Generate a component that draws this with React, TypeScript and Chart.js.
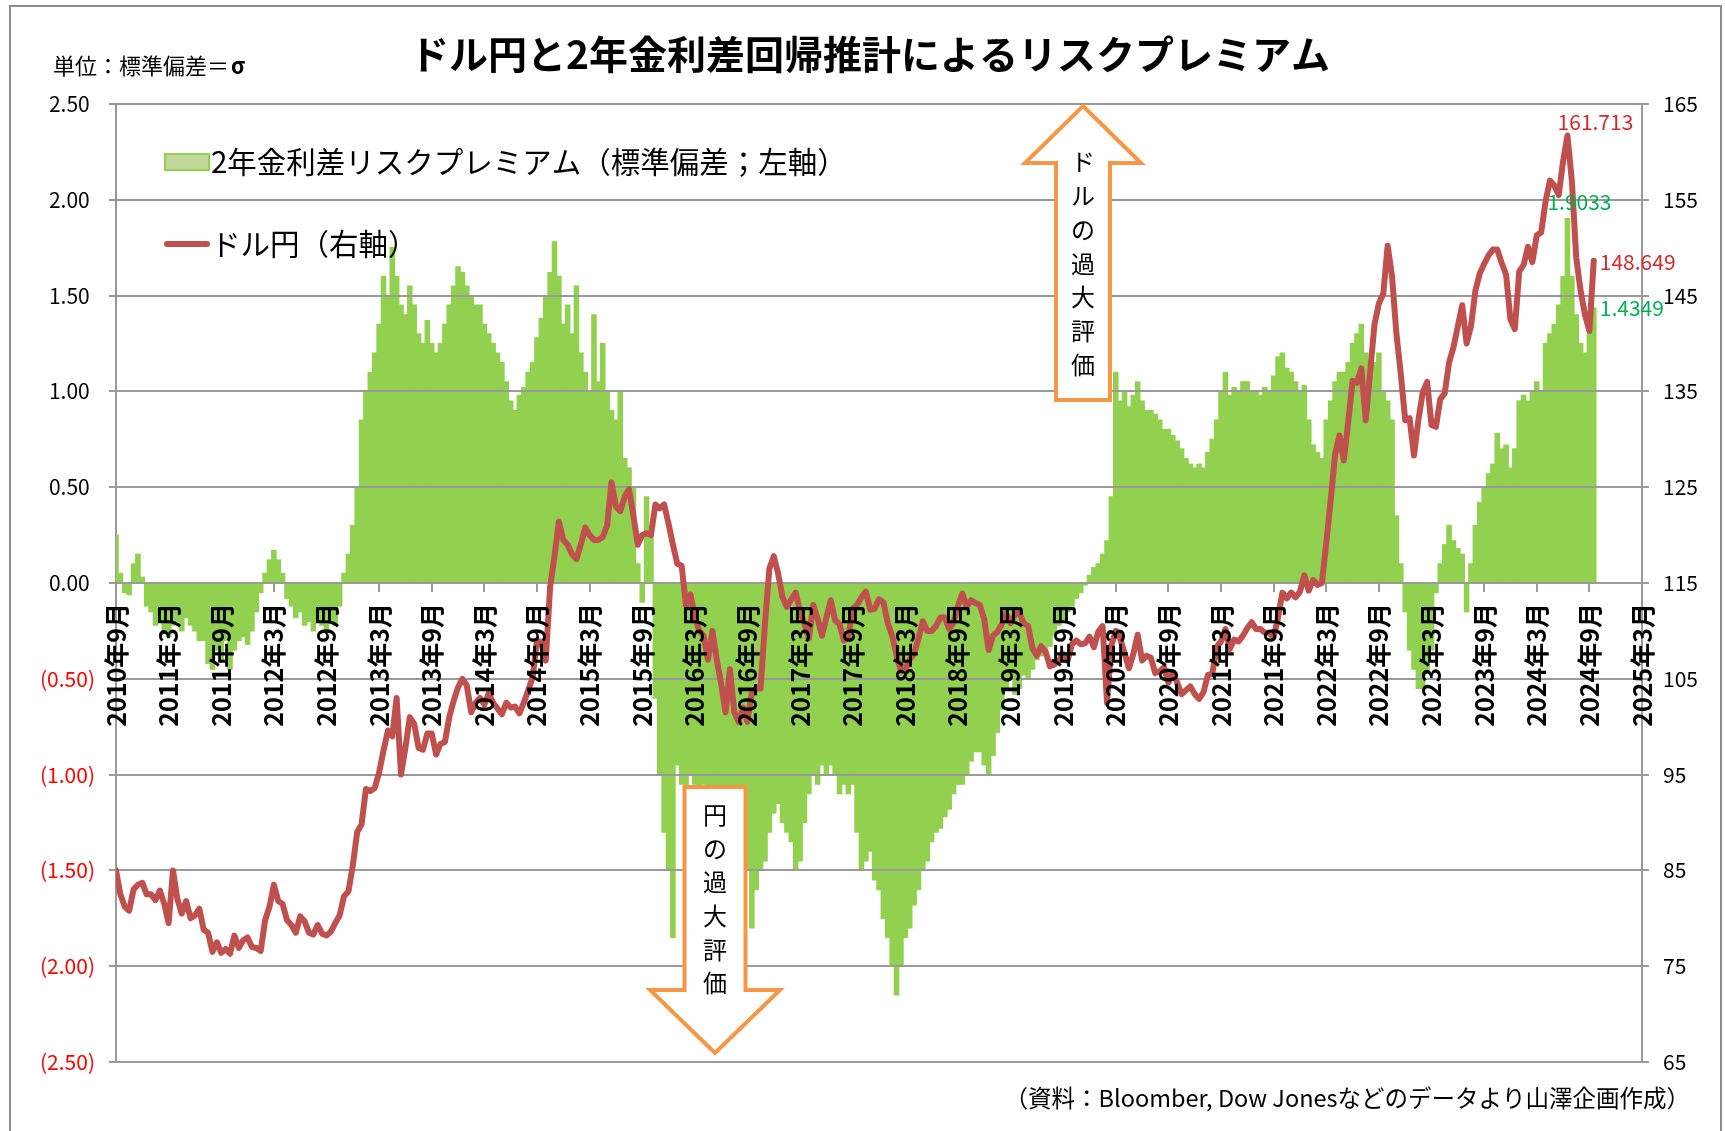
import React, { useEffect, useRef } from 'react';
import { Chart, registerables } from 'chart.js';

Chart.register(...registerables);

const W = 1725;
const H = 1131;
const FONT = "'Noto Sans CJK JP', 'Noto Sans', sans-serif";
const GRID = '#9a9a9a';
const GREEN = '#92D050';
const RED_LINE = '#C0504D';
const ORANGE = '#F79646';

// ---- texts ----
const TITLE = 'ドル円と2年金利差回帰推計によるリスクプレミアム';
const UNIT_LABEL = '単位：標準偏差＝';
const UNIT_SIGMA = 'σ';
const SOURCE_NOTE = '（資料：Bloomber, Dow Jonesなどのデータより山澤企画作成）';
const SERIES_RP = '2年金利差リスクプレミアム（標準偏差；左軸）';
const SERIES_FX = 'ドル円（右軸）';
const ARROW_UP_TEXT = ['ド', 'ル', 'の', '過', '大', '評', '価'];
const ARROW_DOWN_TEXT = ['円', 'の', '過', '大', '評', '価'];

// ---- tick labels ----
const xTickLabels = [
  '2010年9月', '2011年3月', '2011年9月', '2012年3月', '2012年9月', '2013年3月',
  '2013年9月', '2014年3月', '2014年9月', '2015年3月', '2015年9月', '2016年3月',
  '2016年9月', '2017年3月', '2017年9月', '2018年3月', '2018年9月', '2019年3月',
  '2019年9月', '2020年3月', '2020年9月', '2021年3月', '2021年9月', '2022年3月',
  '2022年9月', '2023年3月', '2023年9月', '2024年3月', '2024年9月', '2025年3月',
];
// positive labels carry a trailing quarter-em space, like Excel's "_)" padding
const leftTickLabels = ['(2.50)', '(2.00)', '(1.50)', '(1.00)', '(0.50)', '0.00\u2005', '0.50\u2005', '1.00\u2005', '1.50\u2005', '2.00\u2005', '2.50\u2005'];
const rightTickLabels = ['65', '75', '85', '95', '105', '115', '125', '135', '145', '155', '165'];

// ---- 2-year rate-gap risk premium (sigma), half-month samples ----
const rp2010 = [0.25, 0.05, -0.05, -0.06, 0.10, 0.15, 0.03, -0.12];
const rp2011 = [-0.15, -0.22, -0.20, -0.25, -0.28, -0.22, -0.20, -0.25, -0.18, -0.22, -0.25, -0.30, -0.30, -0.42, -0.45, -0.35, -0.40, -0.30, -0.45, -0.35, -0.30, -0.28, -0.32, -0.25];
const rp2012 = [-0.15, -0.05, 0.05, 0.12, 0.17, 0.12, 0.05, -0.08, -0.12, -0.18, -0.15, -0.22, -0.20, -0.25, -0.20, -0.22, -0.25, -0.20, -0.22, -0.12, 0.05, 0.15, 0.30, 0.50];
const rp2013 = [0.85, 1.00, 1.10, 1.20, 1.35, 1.60, 1.50, 1.75, 1.60, 1.45, 1.40, 1.55, 1.45, 1.30, 1.25, 1.37, 1.25, 1.20, 1.25, 1.35, 1.45, 1.55, 1.65, 1.62];
const rp2014 = [1.55, 1.50, 1.45, 1.45, 1.35, 1.30, 1.25, 1.20, 1.15, 1.05, 0.95, 0.90, 0.98, 1.02, 1.10, 1.15, 1.28, 1.38, 1.50, 1.62, 1.78, 1.60, 1.35, 1.45];
const rp2015 = [1.30, 1.55, 1.20, 1.10, 1.00, 1.40, 1.05, 1.25, 1.00, 0.90, 0.85, 1.00, 0.65, 0.60, 0.50, 0.10, -0.10, 0.45, 0.30, -0.60, -1.00, -1.30, -1.50, -1.85];
const rp2016 = [-0.95, -1.05, -1.10, -1.00, -1.05, -1.10, -1.05, -1.15, -1.10, -1.20, -1.15, -1.25, -1.20, -1.25, -1.30, -1.30, -1.50, -1.80, -1.60, -1.50, -1.45, -1.30, -1.20, -1.15];
const rp2017 = [-1.25, -1.30, -1.35, -1.50, -1.45, -1.25, -1.10, -1.00, -1.05, -0.95, -1.00, -0.95, -1.00, -1.10, -1.05, -1.10, -1.05, -1.30, -1.50, -1.45, -1.40, -1.55, -1.60, -1.75];
const rp2018 = [-1.85, -2.00, -2.15, -2.00, -1.85, -1.80, -1.68, -1.60, -1.50, -1.45, -1.35, -1.30, -1.28, -1.22, -1.18, -1.10, -1.05, -1.05, -1.00, -0.93, -0.88, -0.88, -0.95, -1.00];
const rp2019 = [-0.90, -0.78, -0.66, -0.55, -0.50, -0.58, -0.55, -0.48, -0.50, -0.45, -0.40, -0.38, -0.37, -0.33, -0.27, -0.22, -0.20, -0.15, -0.12, -0.08, -0.05, -0.01, 0.04, 0.08];
const rp2020 = [0.10, 0.15, 0.22, 0.45, 1.10, 0.95, 1.00, 0.92, 0.98, 1.05, 0.95, 0.90, 0.90, 0.88, 0.85, 0.80, 0.80, 0.77, 0.74, 0.70, 0.65, 0.62, 0.60, 0.62];
const rp2021 = [0.60, 0.68, 0.75, 0.85, 1.00, 1.10, 0.98, 1.02, 1.00, 1.05, 1.05, 1.00, 1.00, 0.98, 1.02, 1.00, 1.08, 1.18, 1.20, 1.12, 1.10, 1.05, 1.00, 1.03];
const rp2022 = [0.85, 0.72, 0.68, 0.65, 0.85, 0.95, 1.05, 1.10, 1.10, 1.15, 1.25, 1.30, 1.35, 1.20, 1.05, 1.15, 1.20, 1.00, 0.95, 0.85, 0.35, 0.10, -0.15, -0.35];
const rp2023 = [-0.45, -0.55, -0.55, -0.45, -0.35, -0.05, 0.10, 0.20, 0.30, 0.22, 0.18, 0.15, -0.15, 0.10, 0.30, 0.42, 0.50, 0.57, 0.62, 0.78, 0.70, 0.72, 0.60, 0.70];
const rp2024 = [0.95, 0.98, 0.95, 1.00, 1.05, 1.00, 1.25, 1.30, 1.35, 1.45, 1.60, 1.9033, 1.60, 1.40, 1.25, 1.20, 1.30, 1.4349];

// ---- USD/JPY, half-month samples ----
const usd2010 = [85.0, 82.5, 81.2, 80.8, 83.0, 83.5, 83.7, 82.5];
const usd2011 = [82.5, 81.9, 82.9, 81.5, 79.5, 85.0, 82.0, 80.5, 81.8, 80.0, 80.3, 81.0, 78.8, 78.5, 76.5, 77.5, 76.4, 76.8, 76.3, 78.2, 76.9, 77.7, 78.0, 77.0];
const usd2012 = [76.9, 76.6, 79.8, 81.2, 83.5, 81.8, 81.5, 79.8, 79.3, 78.5, 80.2, 79.7, 78.5, 78.3, 79.3, 78.4, 78.2, 78.6, 79.5, 80.3, 82.3, 82.8, 85.5, 89.0];
const usd2013 = [89.8, 93.5, 93.3, 93.6, 95.2, 97.5, 99.6, 99.0, 103.0, 95.0, 97.8, 101.0, 100.3, 97.8, 97.6, 99.3, 99.3, 97.1, 98.2, 98.4, 101.0, 102.7, 104.1, 105.0];
const usd2014 = [104.3, 101.5, 102.5, 103.0, 102.3, 103.5, 102.5, 101.9, 101.3, 102.5, 102.0, 102.1, 101.4, 102.5, 103.8, 105.1, 109.0, 108.8, 106.9, 114.6, 117.8, 121.4, 119.5, 119.0];
const usd2015 = [118.0, 117.5, 119.0, 120.8, 120.0, 119.5, 119.5, 119.8, 121.0, 125.5, 123.0, 122.5, 124.0, 124.8, 122.0, 119.0, 120.0, 120.2, 120.0, 123.2, 122.8, 123.2, 121.2, 119.0];
const usd2016 = [117.0, 116.8, 112.6, 113.8, 111.5, 110.0, 109.5, 107.0, 110.0, 107.0, 104.5, 101.5, 106.0, 101.5, 100.5, 102.0, 100.5, 103.5, 104.0, 104.0, 110.8, 116.5, 117.8, 116.0];
const usd2017 = [113.5, 112.5, 113.3, 114.0, 112.0, 110.8, 109.2, 112.7, 111.3, 109.5, 111.4, 113.2, 111.1, 110.7, 109.0, 109.3, 112.3, 112.7, 113.5, 114.1, 112.2, 112.3, 113.3, 113.0];
const usd2018 = [110.8, 109.5, 107.5, 105.8, 106.0, 107.0, 107.6, 109.2, 111.0, 110.0, 110.0, 110.5, 111.4, 111.4, 110.2, 110.9, 112.6, 113.9, 112.5, 113.2, 112.9, 112.7, 111.2, 108.0];
const usd2019 = [109.5, 109.9, 110.7, 111.8, 110.8, 111.7, 111.9, 110.8, 110.5, 108.2, 107.4, 108.4, 107.8, 106.3, 106.5, 106.9, 107.6, 106.9, 108.6, 109.0, 108.6, 108.7, 109.4, 108.3];
const usd2020 = [109.9, 110.5, 102.5, 108.5, 110.0, 109.2, 107.7, 106.1, 107.6, 109.6, 106.9, 107.4, 107.2, 105.6, 105.8, 106.2, 104.6, 105.7, 104.6, 103.4, 103.8, 104.2, 103.4, 102.9];
const usd2021 = [103.6, 105.4, 105.5, 108.3, 108.9, 110.2, 108.1, 109.1, 108.9, 109.5, 110.3, 110.9, 110.2, 110.2, 109.8, 109.8, 109.3, 111.4, 114.0, 113.4, 114.0, 113.5, 114.1, 115.8];
const usd2022 = [114.2, 115.3, 114.8, 115.0, 119.2, 123.6, 128.4, 130.4, 127.8, 131.8, 136.1, 135.9, 137.4, 132.0, 137.0, 142.0, 144.2, 145.2, 150.2, 147.0, 141.0, 136.8, 132.0, 132.2];
const usd2023 = [128.3, 132.0, 134.9, 136.0, 131.5, 131.3, 134.2, 134.8, 138.0, 139.6, 141.8, 144.0, 140.0, 141.8, 145.5, 147.3, 148.3, 149.2, 149.8, 149.8, 148.4, 147.2, 142.5, 141.5];
const usd2024 = [147.5, 148.2, 150.1, 148.5, 151.3, 151.6, 154.8, 157.0, 156.5, 155.5, 159.0, 161.713, 157.0, 149.0, 145.5, 143.0, 141.3, 148.649];

const rpValues = [
  ...rp2010, ...rp2011, ...rp2012, ...rp2013, ...rp2014, ...rp2015, ...rp2016, ...rp2017,
  ...rp2018, ...rp2019, ...rp2020, ...rp2021, ...rp2022, ...rp2023, ...rp2024,
];
const fxValues = [
  ...usd2010, ...usd2011, ...usd2012, ...usd2013, ...usd2014, ...usd2015, ...usd2016, ...usd2017,
  ...usd2018, ...usd2019, ...usd2020, ...usd2021, ...usd2022, ...usd2023, ...usd2024,
];

// x is measured in months from the first tick (2010年9月); samples are half a month apart
const SAMPLE_STEP = 0.5;
const rpPoints = rpValues.map((y, i) => ({ x: i * SAMPLE_STEP, y }));
const fxPoints = fxValues.map((y, i) => ({ x: i * SAMPLE_STEP, y }));

const font = (size: number, bold = false) => `${bold ? 'bold ' : ''}${size}px ${FONT}`;

function drawPolygon(ctx: CanvasRenderingContext2D, pts: number[][]) {
  ctx.beginPath();
  pts.forEach(([x, y], i) => (i ? ctx.lineTo(x, y) : ctx.moveTo(x, y)));
  ctx.closePath();
  ctx.fillStyle = '#ffffff';
  ctx.fill();
  ctx.lineWidth = 4;
  ctx.strokeStyle = ORANGE;
  ctx.lineJoin = 'miter';
  ctx.stroke();
}

function drawVerticalText(ctx: CanvasRenderingContext2D, chars: string[], cx: number, y0: number, step: number) {
  ctx.font = font(24);
  ctx.fillStyle = '#000';
  ctx.textAlign = 'center';
  ctx.textBaseline = 'middle';
  chars.forEach((c, i) => ctx.fillText(c, cx, y0 + i * step));
}

const decorPlugin = {
  id: 'decor',
  beforeDatasetDraw(chart: any, args: any) {
    // redraw horizontal grid over the bars, below the line
    if (args.index !== 1) return;
    const { ctx, chartArea } = chart;
    const ys = chart.scales.y;
    ctx.save();
    ctx.strokeStyle = GRID;
    ctx.lineWidth = 2;
    ys.ticks.forEach((t: any) => {
      const py = Math.round(ys.getPixelForValue(t.value));
      ctx.beginPath();
      ctx.moveTo(chartArea.left, py);
      ctx.lineTo(chartArea.right, py);
      ctx.stroke();
    });
    ctx.restore();
  },
  afterDatasetsDraw(chart: any) {
    const { ctx } = chart;
    ctx.save();
    // arrows
    drawPolygon(ctx, [[1083, 106], [1141, 163], [1110, 163], [1110, 400], [1056, 400], [1056, 163], [1025, 163]]);
    drawVerticalText(ctx, ARROW_UP_TEXT, 1083, 162, 33.8);
    drawPolygon(ctx, [[684.5, 787], [745.5, 787], [745.5, 990], [780, 990], [715, 1053], [650, 990], [684.5, 990]]);
    drawVerticalText(ctx, ARROW_DOWN_TEXT, 715, 815, 33.6);

    // data labels
    const barMeta = chart.getDatasetMeta(0);
    const lineMeta = chart.getDatasetMeta(1);
    const fxPeak = fxValues.indexOf(Math.max(...fxValues));
    const rpPeak = rpValues.indexOf(Math.max(...rpValues));
    const last = fxValues.length - 1;
    ctx.font = font(21);
    ctx.textBaseline = 'middle';

    const p1 = lineMeta.data[fxPeak];
    ctx.fillStyle = '#d42a2a';
    ctx.textAlign = 'center';
    ctx.fillText(fxValues[fxPeak].toFixed(3), p1.x + 28, p1.y - 13);

    const b1 = barMeta.data[rpPeak];
    ctx.fillStyle = '#00b050';
    ctx.fillText(rpValues[rpPeak].toFixed(4), b1.x + 12, b1.y - 16);

    const p2 = lineMeta.data[last];
    ctx.fillStyle = '#d42a2a';
    ctx.textAlign = 'left';
    ctx.fillText(fxValues[last].toFixed(3), p2.x + 6, p2.y + 1);

    const b2 = barMeta.data[last];
    ctx.fillStyle = '#00b050';
    ctx.fillText(rpValues[last].toFixed(4), b2.x + 6, b2.y);
    ctx.restore();
  },
  afterDraw(chart: any) {
    const { ctx } = chart;
    ctx.save();
    // frame
    ctx.strokeStyle = '#8c8c8c';
    ctx.lineWidth = 2;
    ctx.strokeRect(10, 6, 1711, 1300);

    // title
    ctx.fillStyle = '#000';
    ctx.font = font(39, true);
    ctx.textAlign = 'center';
    ctx.textBaseline = 'middle';
    ctx.fillText(TITLE, 870, 54);

    // unit
    ctx.textAlign = 'left';
    ctx.font = font(22);
    ctx.fillText(UNIT_LABEL, 53, 66);
    const uw = ctx.measureText(UNIT_LABEL).width;
    ctx.font = font(22, true);
    ctx.fillText(UNIT_SIGMA, 53 + uw + 2, 66);

    // legend
    ctx.fillStyle = '#c4d79b';
    ctx.fillRect(165, 154, 44, 16);
    ctx.strokeStyle = GREEN;
    ctx.lineWidth = 2;
    ctx.strokeRect(165, 154, 44, 16);
    ctx.fillStyle = '#000';
    ctx.font = font(29.5);
    ctx.fillText(SERIES_RP, 211, 162);
    ctx.strokeStyle = RED_LINE;
    ctx.lineWidth = 6;
    ctx.lineCap = 'round';
    ctx.beginPath();
    ctx.moveTo(167, 244);
    ctx.lineTo(207, 244);
    ctx.stroke();
    ctx.fillText(SERIES_FX, 211, 244);

    // source
    ctx.font = font(23.5);
    ctx.textAlign = 'right';
    ctx.fillText(SOURCE_NOTE, 1690, 1098);
    ctx.restore();
  },
};

export default function App() {
  const ref = useRef<HTMLCanvasElement>(null);
  useEffect(() => {
    const canvas = ref.current;
    if (!canvas) return;
    const chart = new Chart(canvas, {
      type: 'bar',
      data: {
        datasets: [
          {
            type: 'bar',
            label: SERIES_RP,
            data: rpPoints as any,
            xAxisID: 'x',
            yAxisID: 'y',
            backgroundColor: GREEN,
            borderWidth: 0,
            barPercentage: 1,
            categoryPercentage: 1,
            inflateAmount: 0.6,
            order: 2,
          } as any,
          {
            type: 'line',
            label: SERIES_FX,
            data: fxPoints as any,
            xAxisID: 'x',
            yAxisID: 'y2',
            borderColor: RED_LINE,
            backgroundColor: RED_LINE,
            borderWidth: 6,
            pointRadius: 0,
            tension: 0,
            borderJoinStyle: 'round',
            borderCapStyle: 'round',
            order: 1,
          } as any,
        ],
      },
      options: {
        responsive: false,
        animation: false,
        devicePixelRatio: 1,
        layout: { padding: { left: 0, right: 0, top: 104, bottom: 69 } },
        plugins: {
          legend: { display: false },
          title: { display: false },
          tooltip: { enabled: false },
        },
        scales: {
          x: {
            type: 'linear',
            position: { y: 0 } as any,
            min: 0,
            max: 174,
            offset: false,
            grid: {
              display: true,
              drawOnChartArea: false,
              drawTicks: true,
              tickLength: 8,
              color: GRID,
              lineWidth: 2,
              offset: false,
            },
            border: { display: true, color: GRID, width: 2 },
            ticks: {
              stepSize: 6,
              autoSkip: false,
              minRotation: 90,
              maxRotation: 90,
              padding: 12,
              color: '#000',
              font: { family: FONT, size: 25, weight: 'bold' },
              callback: (_v: any, i: number) => xTickLabels[i],
              z: 1,
            } as any,
          },
          y: {
            type: 'linear',
            position: 'left',
            min: -2.5,
            max: 2.5,
            grid: { color: GRID, lineWidth: 2, drawTicks: true, tickLength: 7, tickColor: GRID },
            border: { display: true, color: GRID, width: 2 },
            ticks: {
              stepSize: 0.5,
              padding: 14,
              font: { family: FONT, size: 21 },
              color: (c: any) => (c.index < 5 ? '#ff0000' : '#000000'),
              callback: (_v: any, i: number) => leftTickLabels[i],
            },
            afterFit: (s: any) => { s.width = 116; },
          },
          y2: {
            type: 'linear',
            position: 'right',
            min: 65,
            max: 165,
            grid: { drawOnChartArea: false, drawTicks: true, tickLength: 7, color: GRID, lineWidth: 2 },
            border: { display: true, color: GRID, width: 2 },
            ticks: {
              stepSize: 10,
              padding: 14,
              font: { family: FONT, size: 21 },
              color: '#000',
              callback: (_v: any, i: number) => rightTickLabels[i],
            },
            afterFit: (s: any) => { s.width = 83; },
          },
        },
      } as any,
      plugins: [decorPlugin as any],
    });
    return () => chart.destroy();
  }, []);

  return (
    <div style={{ position: 'fixed', left: 0, top: 0, width: W, height: H, background: '#fff', overflow: 'hidden' }}>
      <canvas ref={ref} width={W} height={H} style={{ display: 'block', width: W, height: H }} />
    </div>
  );
}
